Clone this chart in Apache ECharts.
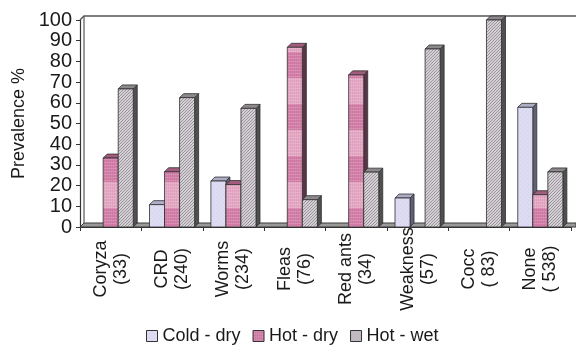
<!DOCTYPE html>
<html>
<head>
<meta charset="utf-8">
<script src="https://cdn.jsdelivr.net/npm/echarts@6/dist/echarts.min.js"></script>
<style>
  html, body { margin: 0; padding: 0; background: #fff; }
  #chart { width: 576px; height: 345px; }
</style>
</head>
<body>
<div id="chart"></div>
<script>
// Prevalence (%) of each condition by season; sample size in brackets
const categories = ['Coryza\n(33)', 'CRD\n(240)', 'Worms\n(234)', 'Fleas\n(76)',
  'Red ants\n(34)', 'Weakness\n(57)', 'Cocc\n( 83)', 'None\n( 538)'];
const seasonNames = ['Cold - dry', 'Hot - dry', 'Hot - wet'];
const coldDry = [0, 10.8, 22.2, 0, 0, 14.0, 0, 57.8];
const hotDry  = [33.3, 26.7, 20.5, 86.8, 73.5, 0, 0, 15.6];
const hotWet  = [66.7, 62.5, 57.3, 13.2, 26.5, 86.0, 100, 26.6];
const yTicks = { min: 0, max: 100, interval: 10 };

// plot frame
const W = 576, H = 345;
const GRID = { left: 80, right: 5, top: 20, bottom: 118 };
const DEPTH = 4;           // 3D offset of the columns and walls
const BAR_FRAC = 0.245;    // column width as a share of a category band
const FONT = 'Liberation Sans, Arial, sans-serif';

function makeCanvas(w, h, draw) {
  const c = document.createElement('canvas');
  c.width = w; c.height = h;
  draw(c.getContext('2d'));
  return c;
}
// light lavender fill
const coldPattern = makeCanvas(4, 4, g => {
  g.fillStyle = '#dedcf3'; g.fillRect(0, 0, 4, 4);
  g.fillStyle = '#d3d1ea'; g.fillRect(0, 0, 1, 1); g.fillRect(2, 2, 1, 1);
});
// banded pink fill
const pinkPattern = makeCanvas(4, 52, g => {
  g.fillStyle = '#d47fa9'; g.fillRect(0, 0, 4, 26);
  g.fillStyle = '#e7aac6'; g.fillRect(0, 26, 4, 26);
  g.fillStyle = 'rgba(255,255,255,0.16)';
  for (let y = 0; y < 52; y += 3) g.fillRect(0, y, 4, 1);
  g.fillStyle = 'rgba(120,40,80,0.08)';
  for (let x = 0; x < 4; x += 2) g.fillRect(x, 0, 1, 52);
});
// grey diagonal hatch
const hatchPattern = makeCanvas(3, 3, g => {
  g.fillStyle = '#d4cfd4'; g.fillRect(0, 0, 3, 3);
  g.fillStyle = '#9c969c';
  for (let i = 0; i < 3; i++) g.fillRect(i, 2 - i, 1, 1);
});

const faces = [
  { front: { image: coldPattern, repeat: 'repeat' }, top: '#aeadc6', side: '#60607a' },
  { front: { image: pinkPattern, repeat: 'repeat' }, top: '#a35c7d', side: '#5a3548' },
  { front: { image: hatchPattern, repeat: 'repeat' }, top: '#8c888c', side: '#505050' }
];

function columnSeries(name, values, idx) {
  const f = faces[idx];
  return {
    type: 'custom',
    name: name,
    z: 3,
    data: values.map((v, i) => [i, v]),
    encode: { x: 0, y: 1 },
    renderItem: function (params, api) {
      const v = api.value(1);
      if (!v) return null;
      const base = api.coord([api.value(0), 0]);
      const tip = api.coord([api.value(0), v]);
      const band = api.size([1, 0])[0];
      const w = band * BAR_FRAC;
      const x0 = base[0] - 1.5 * w + idx * w;
      const x1 = x0 + w;
      const yt = tip[1], yb = base[1], d = DEPTH;
      const edge = { stroke: '#2e2e2e', lineWidth: 0.8 };
      return {
        type: 'group',
        children: [
          { type: 'polygon', shape: { points: [[x1, yt], [x1 + d, yt - d], [x1 + d, yb - d], [x1, yb]] },
            style: Object.assign({ fill: f.side }, edge) },
          { type: 'polygon', shape: { points: [[x0, yt], [x0 + d, yt - d], [x1 + d, yt - d], [x1, yt]] },
            style: Object.assign({ fill: f.top }, edge) },
          { type: 'rect', shape: { x: x0, y: yt, width: w, height: yb - yt },
            style: Object.assign({ fill: f.front }, edge) }
        ]
      };
    }
  };
}

// back wall, left wall edge and floor slab
const x0 = GRID.left, xR = W, yTop = GRID.top, yFloor = H - GRID.bottom;
const frame = [
  { type: 'polygon', z: 1, shape: { points: [[x0, yFloor], [x0 + DEPTH, yFloor - DEPTH], [xR, yFloor - DEPTH], [xR, yFloor]] },
    style: { fill: '#9a9a9a', stroke: '#3a3a3a', lineWidth: 1 } },
  { type: 'polyline', z: 1, shape: { points: [[x0, yTop], [x0 + DEPTH, yTop - DEPTH], [xR, yTop - DEPTH]] },
    style: { fill: null, stroke: '#555', lineWidth: 1.4 } },
  { type: 'line', z: 1, shape: { x1: x0 + DEPTH, y1: yTop - DEPTH, x2: x0 + DEPTH, y2: yFloor - DEPTH },
    style: { stroke: '#555', lineWidth: 1.2 } }
];

const chart = echarts.init(document.getElementById('chart'), null, { renderer: 'canvas' });
chart.setOption({
  animation: false,
  backgroundColor: '#ffffff',
  textStyle: { fontFamily: FONT, color: '#1a1a1a' },
  grid: GRID,
  legend: {
    left: 141,
    top: 322,
    itemWidth: 11,
    itemHeight: 11,
    itemGap: 12,
    textStyle: { fontSize: 18, fontFamily: FONT, color: '#1a1a1a' },
    data: seasonNames.map((n, i) => ({
      name: n, icon: 'rect',
      itemStyle: { color: faces[i].front, borderColor: '#333', borderWidth: 1 }
    }))
  },
  xAxis: {
    type: 'category',
    data: categories,
    axisLine: { lineStyle: { color: '#333', width: 1.2 } },
    axisTick: { show: true, length: 4, lineStyle: { color: '#333' } },
    axisLabel: {
      interval: 0, rotate: 90, align: 'center', verticalAlign: 'middle',
      margin: 42, fontSize: 18, lineHeight: 20, color: '#1a1a1a', fontFamily: FONT
    },
    splitLine: { show: false }
  },
  yAxis: {
    type: 'value',
    min: yTicks.min, max: yTicks.max, interval: yTicks.interval,
    name: 'Prevalence %',
    nameLocation: 'middle',
    nameRotate: 90,
    nameGap: 51,
    nameTextStyle: { fontSize: 18, color: '#1a1a1a', fontFamily: FONT },
    axisLine: { show: true, lineStyle: { color: '#333', width: 1.2 } },
    axisTick: { show: true, length: 4, lineStyle: { color: '#333' } },
    axisLabel: { fontSize: 20, margin: 8, color: '#1a1a1a', fontFamily: FONT },
    splitLine: { show: false }
  },
  graphic: frame,
  series: [
    columnSeries(seasonNames[0], coldDry, 0),
    columnSeries(seasonNames[1], hotDry, 1),
    columnSeries(seasonNames[2], hotWet, 2)
  ]
});
</script>
</body>
</html>
